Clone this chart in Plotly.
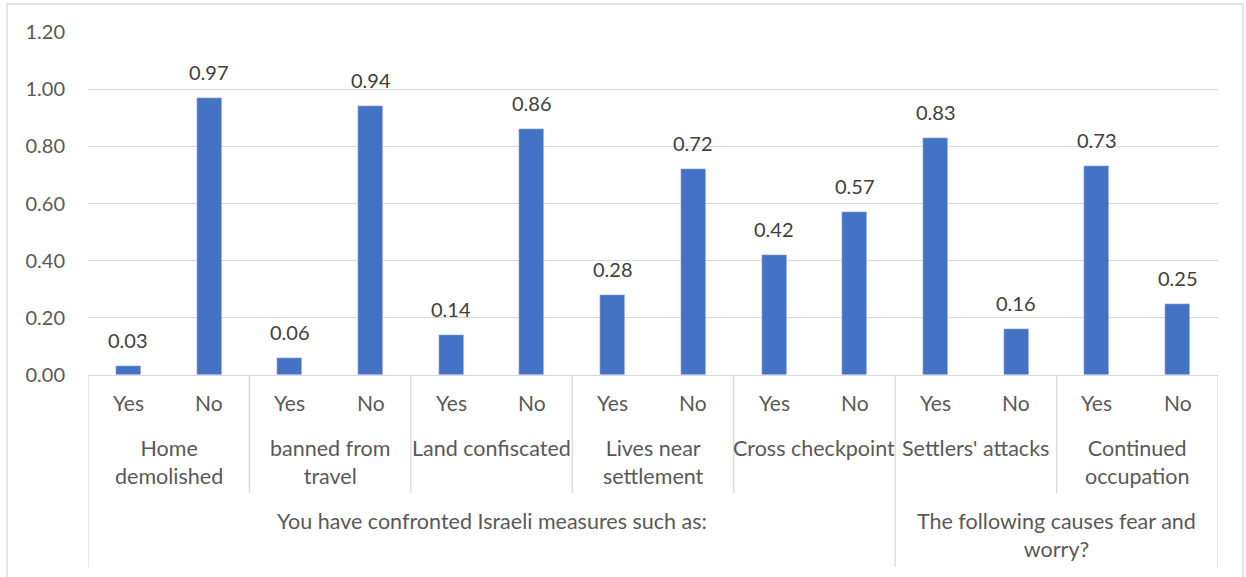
import plotly.graph_objects as go

# ===============================
# DATOS
# ===============================
medidas = [
    "Home<br>demolished",
    "banned from<br>travel",
    "Land confiscated",
    "Lives near<br>settlement",
    "Cross checkpoint",
    "Settlers' attacks",
    "Continued<br>occupation",
]
grupos = [
    "You have confronted Israeli measures such as:",
    "The following causes fear and<br>worry?",
]
grupo_de_medida = [0, 0, 0, 0, 0, 1, 1]
respuestas = ["Yes", "No"]
valores_si = [0.03, 0.06, 0.14, 0.28, 0.42, 0.83, 0.73]
valores_no = [0.97, 0.94, 0.86, 0.72, 0.57, 0.16, 0.25]
y_ticks = [0.0, 0.2, 0.4, 0.6, 0.8, 1.0, 1.2]

AZUL = "#4472C4"
GRIS_LINEA = "#d9d9d9"
GRIS_TEXTO = "#595959"
FUENTE = "Lato"

# posiciones x: cada medida tiene Yes y No
x_pos, y_val = [], []
for i in range(len(medidas)):
    x_pos += [2 * i, 2 * i + 1]
    y_val += [valores_si[i], valores_no[i]]

fig = go.Figure()

fig.add_trace(
    go.Bar(
        x=x_pos,
        y=y_val,
        width=0.31,
        marker_color=AZUL,
    )
)

anotaciones = []
formas = []

# etiquetas de datos
for x, v in zip(x_pos, y_val):
    anotaciones.append(dict(
        x=x, y=v, xref="x", yref="y", yanchor="bottom", yshift=12,
        text="{:.2f}".format(v), showarrow=False,
        font=dict(size=20, color="#404040", family=FUENTE),
    ))

# nivel 1: Yes / No
for x in x_pos:
    anotaciones.append(dict(
        x=x, y=-0.038, xref="x", yref="paper", yanchor="top",
        text=respuestas[x % 2], showarrow=False,
        font=dict(size=21, color=GRIS_TEXTO, family=FUENTE),
    ))

# nivel 2: medidas
for i, m in enumerate(medidas):
    anotaciones.append(dict(
        x=2 * i + 0.5, y=-0.168, xref="x", yref="paper", yanchor="top",
        text=m, showarrow=False,
        font=dict(size=21.5, color=GRIS_TEXTO, family=FUENTE),
    ))

# nivel 3: grupos
for g, nombre in enumerate(grupos):
    idx = [i for i, gg in enumerate(grupo_de_medida) if gg == g]
    centro = (2 * idx[0] + 2 * idx[-1] + 1) / 2
    anotaciones.append(dict(
        x=centro, y=-0.381, xref="x", yref="paper", yanchor="top",
        text=nombre, showarrow=False,
        font=dict(size=21.5, color=GRIS_TEXTO, family=FUENTE),
    ))

# divisores verticales
for i in range(len(medidas) + 1):
    x_div = 2 * i - 0.5
    es_grupo = (i == 0 or i == len(medidas)
                or grupo_de_medida[i] != grupo_de_medida[i - 1])
    formas.append(dict(
        type="line", xref="x", yref="paper",
        x0=x_div, x1=x_div, y0=0, y1=-0.56 if es_grupo else -0.344,
        line=dict(color=GRIS_LINEA, width=1.3),
    ))

# marco exterior
formas.append(dict(
    type="rect", xref="paper", yref="paper",
    x0=-0.0717, x1=1.0221, y0=-0.7, y1=1.0816,
    line=dict(color=GRIS_LINEA, width=1.3),
))

fig.update_layout(
    width=1246,
    height=577,
    plot_bgcolor="white",
    paper_bgcolor="white",
    showlegend=False,
    bargap=0,
    margin=dict(l=88, r=28, t=32, b=202),
    xaxis=dict(
        range=[-0.5, 2 * len(medidas) - 0.5],
        showticklabels=False,
        showgrid=False,
        zeroline=False,
        showline=True,
        linecolor=GRIS_LINEA,
        linewidth=1.3,
        ticks="",
    ),
    yaxis=dict(
        range=[0, 1.2],
        tickvals=y_ticks,
        tickformat=".2f",
        showgrid=True,
        gridcolor=GRIS_LINEA,
        gridwidth=1.3,
        zeroline=False,
        showline=False,
        ticks="",
        ticklabelstandoff=22,
        tickfont=dict(size=20, color=GRIS_TEXTO, family=FUENTE),
    ),
    annotations=anotaciones,
    shapes=formas,
)

fig.write_html(
    "out.html",
    config={"displayModeBar": False},
    post_script="document.body.style.margin='0';",
)
